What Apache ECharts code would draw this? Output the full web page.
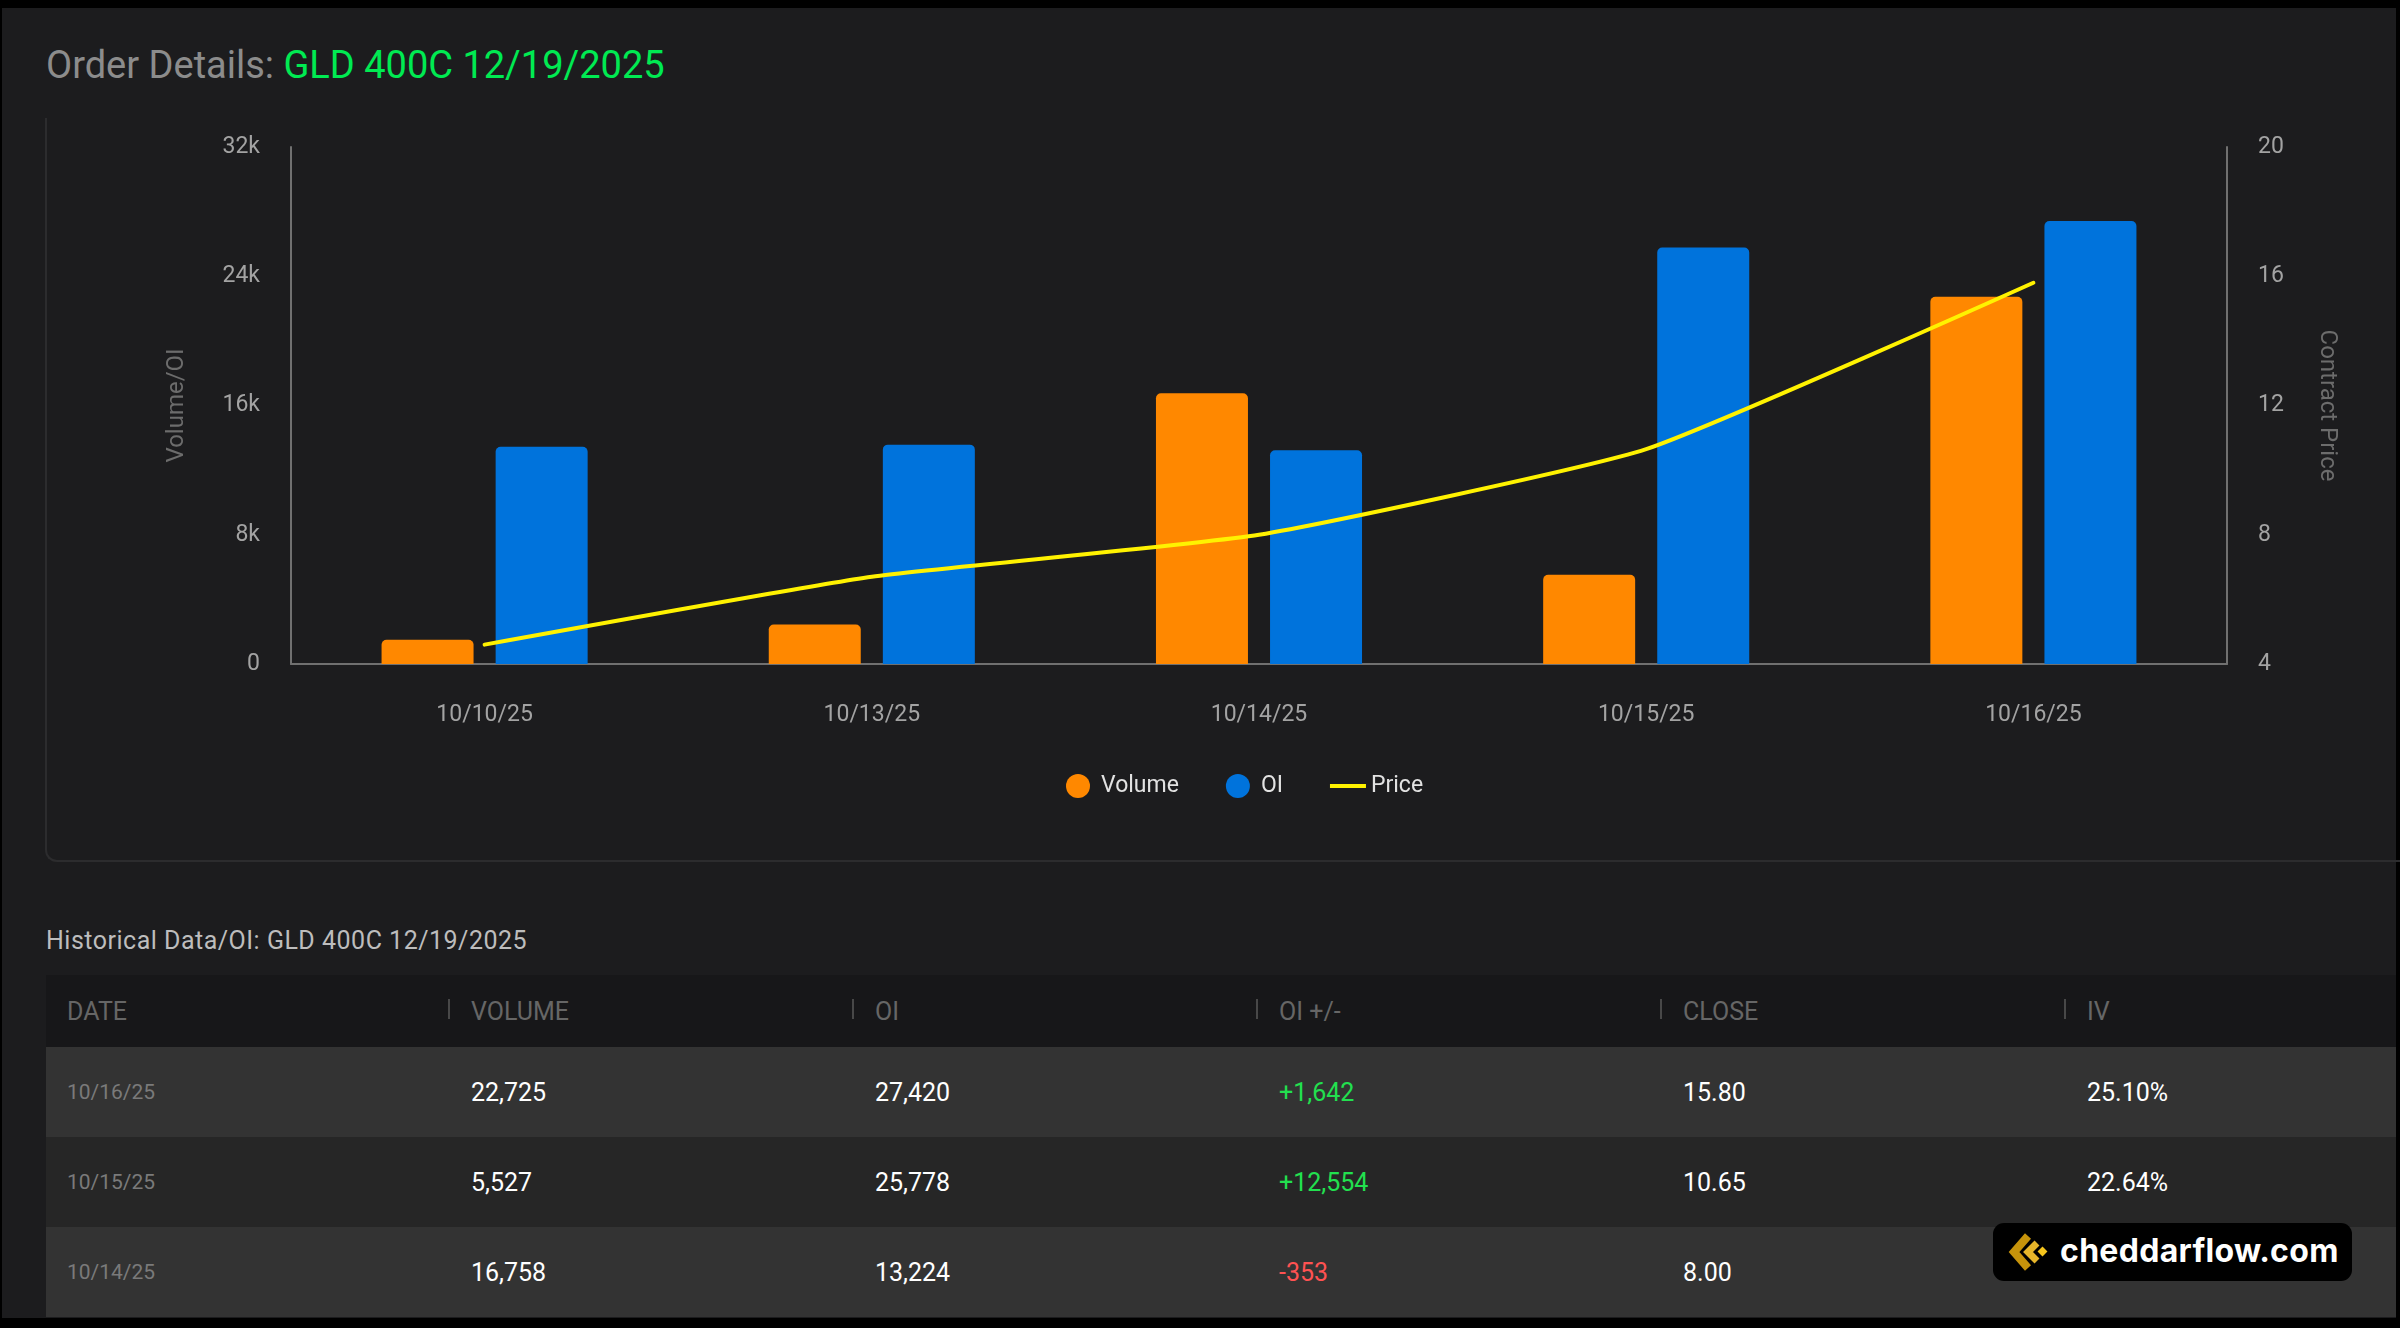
<!DOCTYPE html>
<html>
<head>
<meta charset="utf-8">
<title>Order Details: GLD 400C 12/19/2025</title>
<script src="https://cdn.jsdelivr.net/npm/echarts@6/dist/echarts.min.js"></script>
<style>
  html, body { margin: 0; padding: 0; width: 2400px; height: 1328px; overflow: hidden; background: #000; }
  body { position: relative; font-family: Roboto, "Noto Sans", sans-serif; }
  #page { position: absolute; left: 2px; top: 8px; width: 2394px; height: 1310px; background: #1c1c1e; }
  #panel { position: absolute; left: 45px; top: 118px; width: 2400px; height: 742px;
           border-left: 2px solid #2c2c2e; border-bottom: 2px solid #2c2c2e; border-bottom-left-radius: 12px; }
  #title { position: absolute; left: 46px; top: 46px; font-size: 38px; line-height: 38px; color: #8c8c8c; white-space: nowrap; }
  #title span { color: #00ea52; }
  #chart { position: absolute; left: 0; top: 0; width: 2400px; height: 900px; }
  #subtitle { position: absolute; left: 46px; top: 928px; font-size: 25px; line-height: 25px; letter-spacing: 0.5px; color: #bdbdbd; white-space: nowrap; }
  #table { position: absolute; left: 46px; top: 975px; width: 2350px; overflow: hidden; }
  .row { display: flex; height: 90px; align-items: center; white-space: nowrap; }
  .row.head { height: 72px; background: #171719; }
  .row.odd { background: #333333; }
  .row.even { background: #262626; }
  .cell { flex: 0 0 404px; box-sizing: border-box; padding-left: 21px; position: relative; }
  .head .cell { font-size: 25px; color: #666; }
  .head .cell.sep::before { content: ""; position: absolute; left: -2px; top: 50%; margin-top: -12px; width: 2px; height: 20px; background: #484848; }
  .cell.date { font-size: 21px; color: #7a7a7a; }
  .cell.val { font-size: 25px; color: #fff; }
  .cell.up { color: #22e04f; }
  .cell.down { color: #ff5252; }
  #mark { position: absolute; left: 1993px; top: 1223px; width: 359px; height: 58px; background: #000; border-radius: 11px; }
  #mark svg { position: absolute; left: 15px; top: 9px; }
  #mark div { position: absolute; left: 67px; top: 0; line-height: 56px; font-family: Inter, Roboto, sans-serif; font-weight: 700; font-size: 32px; color: #fff; letter-spacing: 0.3px; }
</style>
</head>
<body>
<div id="page"></div>
<div id="panel"></div>
<div id="title">Order Details: <span>GLD 400C 12/19/2025</span></div>
<div id="chart"></div>
<div id="subtitle">Historical Data/OI: GLD 400C 12/19/2025</div>
<div id="table"></div>
<div id="mark">
  <svg width="40" height="40" viewBox="0 0 40 40">
    <polyline points="20,4 6,20 20,36" fill="none" stroke="#c6930b" stroke-width="8"/>
    <polyline points="29,11 20,20 29,29" fill="none" stroke="#e6b52a" stroke-width="7"/>
    <rect x="31" y="16" width="7" height="7" fill="#f6c51d" transform="rotate(45 34.5 19.5)"/>
  </svg>
  <div>cheddarflow.com</div>
</div>
<script>
;(function() {

  var categories = ['10/10/25', '10/13/25', '10/14/25', '10/15/25', '10/16/25']
  var volumeData = [1500, 2450, 16758, 5527, 22725]
  var oiData = [13450, 13577, 13224, 25778, 27420]
  var priceData = [4.6, 6.7, 8.00, 10.65, 15.80]
  var ivData = [null, null, 23.41, 22.64, 25.10]
  var headers = ['DATE', 'VOLUME', 'OI', 'OI +/-', 'CLOSE', 'IV']
  // table shows the last three days, newest first
  var tableRows = [4, 3, 2]

  var FONT = 'Roboto, "Noto Sans", sans-serif'
  var AXIS = '#707070'
  var LABEL = '#a3a3a3'

  function fmt(n) {
    return n.toLocaleString('en-US')
  }

  function buildTable() {
    var html = '<div class="row head">'
    for (var h = 0; h < headers.length; h++) {
      html += '<div class="cell' + (h > 0 ? ' sep' : '') + '">' + headers[h] + '</div>'
    }
    html += '</div>'
    for (var r = 0; r < tableRows.length; r++) {
      var i = tableRows[r]
      var diff = oiData[i] - oiData[i - 1]
      var diffText = (diff > 0 ? '+' : '-') + fmt(Math.abs(diff))
      html += '<div class="row ' + (r % 2 === 0 ? 'odd' : 'even') + '">'
      html += '<div class="cell date">' + categories[i] + '</div>'
      html += '<div class="cell val">' + fmt(volumeData[i]) + '</div>'
      html += '<div class="cell val">' + fmt(oiData[i]) + '</div>'
      html += '<div class="cell val ' + (diff > 0 ? 'up' : 'down') + '">' + diffText + '</div>'
      html += '<div class="cell val">' + priceData[i].toFixed(2) + '</div>'
      html += '<div class="cell val">' + ivData[i].toFixed(2) + '%</div>'
      html += '</div>'
    }
    document.getElementById('table').innerHTML = html
  }

  var myChart = echarts.init(document.getElementById('chart'))

  var option = {
    backgroundColor: 'transparent',
    animation: false,
    textStyle: { fontFamily: FONT },
    grid: { left: 291, top: 147, width: 1936, height: 517, containLabel: false, outerBoundsMode: 'none' },
    legend: {
      left: 1061,
      top: 769,
      itemWidth: 36,
      itemHeight: 24,
      itemGap: 47,
      textStyle: { color: '#e2e2e2', fontSize: 23, fontFamily: FONT },
      data: [
        { name: 'Volume', icon: 'circle' },
        { name: 'OI', icon: 'circle' },
        { name: 'Price', icon: 'path://M0,0 L36,0 L36,4 L0,4 Z', itemStyle: { color: '#fff200' } }
      ]
    },
    xAxis: {
      type: 'category',
      data: categories,
      axisLine: { lineStyle: { color: AXIS, width: 2 } },
      axisTick: { show: false },
      axisLabel: { color: LABEL, fontSize: 23, margin: 40 }
    },
    yAxis: [
      {
        type: 'value',
        min: 0,
        max: 32000,
        interval: 8000,
        name: 'Volume/OI',
        nameLocation: 'middle',
        nameRotate: 90,
        nameGap: 102,
        nameTextStyle: { color: '#6c6c6c', fontSize: 24 },
        axisLine: { show: true, lineStyle: { color: AXIS, width: 2 } },
        axisTick: { show: false },
        splitLine: { show: false },
        axisLabel: {
          color: LABEL,
          fontSize: 23,
          margin: 31,
          formatter: function(v) { return v === 0 ? '0' : (v / 1000) + 'k' }
        }
      },
      {
        type: 'value',
        position: 'right',
        min: 4,
        max: 20,
        interval: 4,
        name: 'Contract Price',
        nameLocation: 'middle',
        nameRotate: -90,
        nameGap: 88,
        nameTextStyle: { color: '#6c6c6c', fontSize: 24 },
        axisLine: { show: true, lineStyle: { color: AXIS, width: 2 } },
        axisTick: { show: false },
        splitLine: { show: false },
        axisLabel: { color: LABEL, fontSize: 23, margin: 31 }
      }
    ],
    series: [
      {
        name: 'Volume',
        type: 'bar',
        data: volumeData,
        barWidth: 92,
        barGap: '24%',
        itemStyle: { color: '#ff8800', borderRadius: [5, 5, 0, 0] }
      },
      {
        name: 'OI',
        type: 'bar',
        data: oiData,
        barWidth: 92,
        itemStyle: { color: '#0073dc', borderRadius: [5, 5, 0, 0] }
      },
      {
        name: 'Price',
        type: 'line',
        yAxisIndex: 1,
        data: priceData,
        symbol: 'none',
        smooth: 0.15,
        itemStyle: { color: '#fff200' },
        lineStyle: { color: '#fff200', width: 4, cap: 'round' }
      }
    ]
  }

  buildTable()
  myChart.setOption(option, true)
})()
</script>
</body>
</html>
